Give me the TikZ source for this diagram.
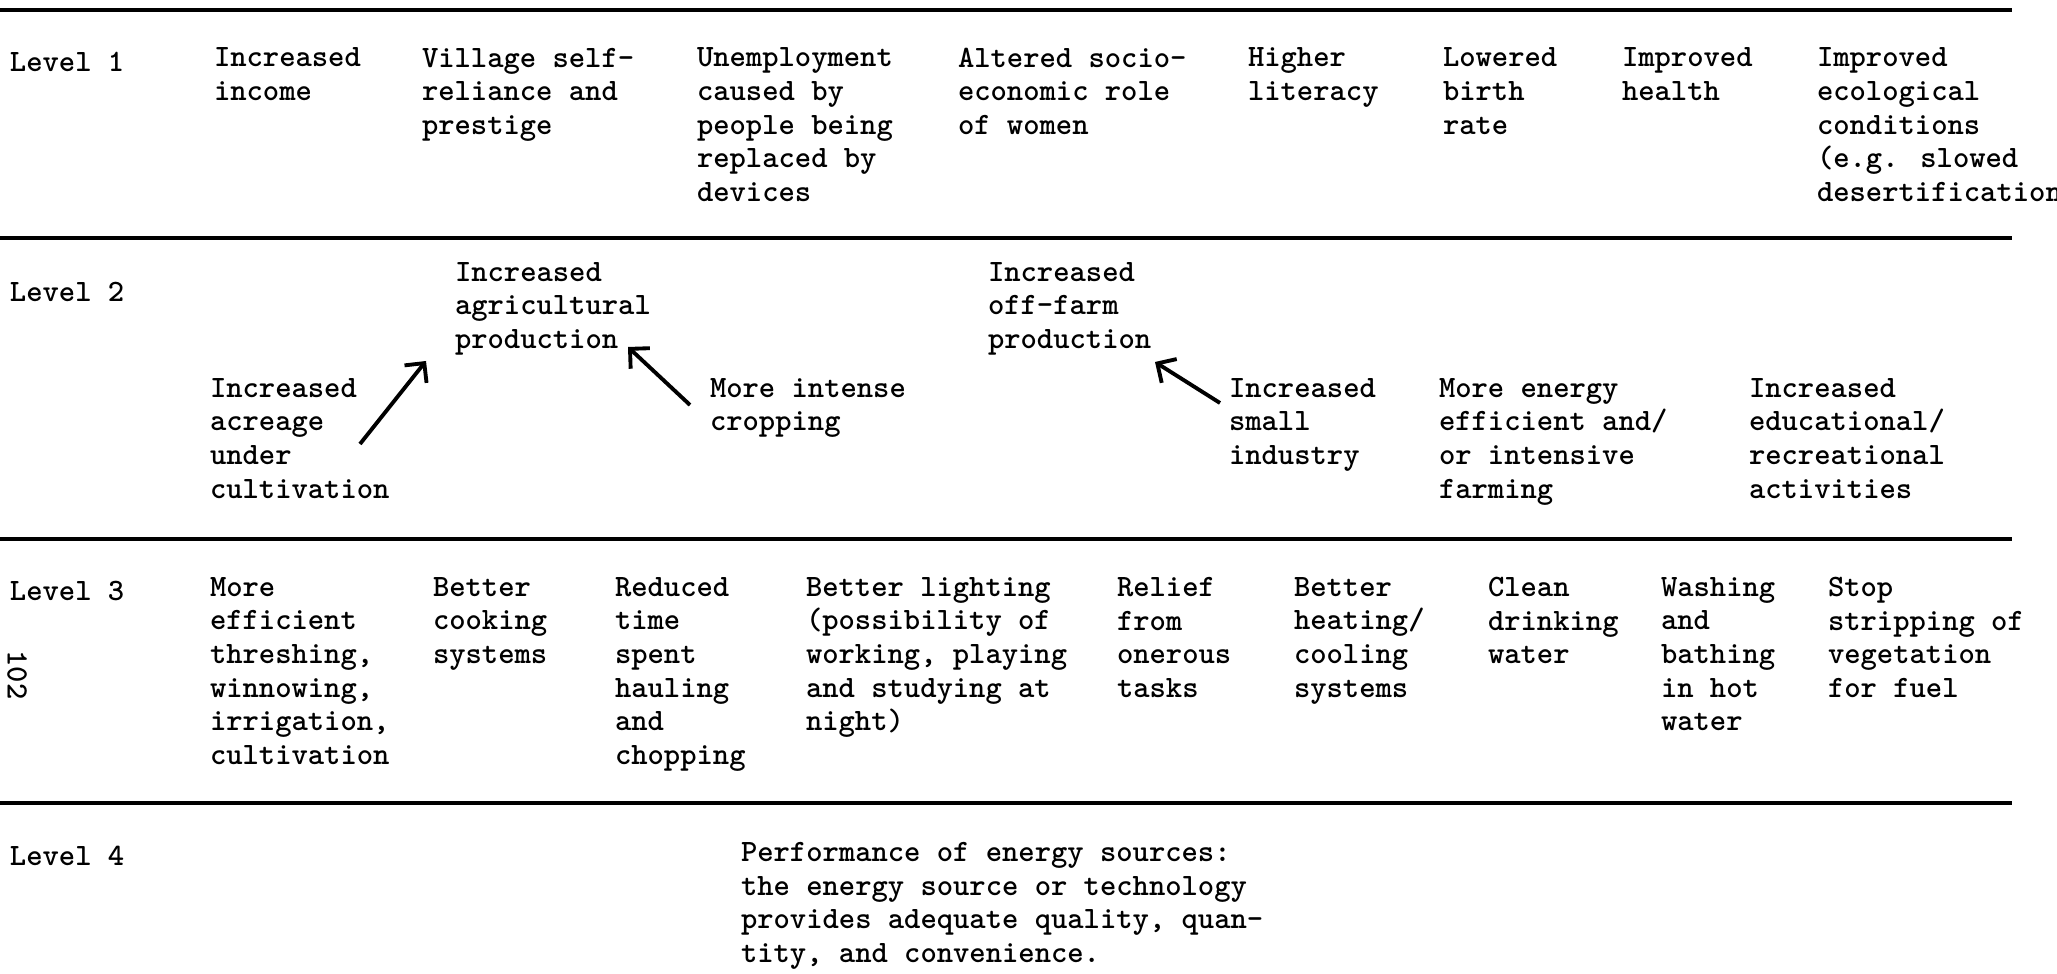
\documentclass[tikz,border=0pt]{standalone}
\usepackage{fontspec}
\setmainfont{lmmonolt10-bold.otf}
\usetikzlibrary{arrows.meta, calc}
\tikzset{
  txt/.style={anchor=north west, inner sep=0pt, outer sep=0pt, align=left, font=\fontsize{8.84pt}{9.53pt}\selectfont, execute at begin node=\strut},
  sepline/.style={line width=0.9pt, draw=black},
  arrow/.style={-{Straight Barb[length=4pt, width=8pt]}, line width=1.1pt, draw=black}
}
\begin{document}
\begin{tikzpicture}[x=0.01cm, y=-0.01cm]
\useasboundingbox (0,0) rectangle (2057,974);

\draw[sepline] (0,10) -- (2012,10);
\draw[sepline] (0,238) -- (2012,238);
\draw[sepline] (0,539) -- (2012,539);
\draw[sepline] (0,803) -- (2012,803);

\node[txt] (lvl1) at (10,48) {Level 1};
\node[txt] (income) at (214,48) {Increased\\income};
\node[txt] (village) at (422,48) {Village self-\\reliance and\\prestige};
\node[txt] (unemploy) at (697,48) {Unemployment\\caused by\\people being\\replaced by\\devices};
\node[txt] (women) at (958,48) {Altered socio-\\economic role\\of women};
\node[txt] (literacy) at (1248,48) {Higher\\literacy};
\node[txt] (birth) at (1443,48) {Lowered\\birth\\rate};
\node[txt] (health) at (1622,48) {Improved\\health};
\node[txt] (ecology) at (1817,48) {Improved\\ecological\\conditions\\(e.g. slowed\\desertification};

\node[txt] (lvl2) at (10,278.5) {Level 2};
\node[txt] (agric) at (455,262.5) {Increased\\agricultural\\production};
\node[txt] (offfarm) at (988,262.5) {Increased\\off-farm\\production};
\node[txt] (acreage) at (210,378.5) {Increased\\acreage\\under\\cultivation};
\node[txt] (intense) at (710,378.5) {More intense\\cropping};
\node[txt] (industry) at (1229,378.5) {Increased\\small\\industry};
\node[txt] (farming) at (1439,378.5) {More energy\\efficient and/\\or intensive\\farming};
\node[txt] (leisure) at (1749,378.5) {Increased\\educational/\\recreational\\activities};

\draw[arrow] ($(acreage.north west)+(150,65.5)$) -- ($(agric.north west)+(-29,98.5)$);
\draw[arrow] ($(intense.north west)+(-20,26.5)$) -- ($(agric.north west)+(173,84.5)$);
\draw[arrow] ($(industry.north west)+(-9,24.5)$) -- ($(offfarm.north west)+(167,99.5)$);

\node[txt] (lvl3) at (10,577.5) {Level 3};
\node[inner sep=0pt, rotate=-90, font=\fontsize{8.84pt}{9.53pt}\selectfont] (page) at (17,675) {102};
\node[txt] (thresh) at (210,577.5) {More\\efficient\\threshing,\\winnowing,\\irrigation,\\cultivation};
\node[txt] (cooking) at (433,577.5) {Better\\cooking\\systems};
\node[txt] (hauling) at (615,577.5) {Reduced\\time\\spent\\hauling\\and\\chopping};
\node[txt] (lighting) at (806,577.5) {Better lighting\\(possibility of\\working, playing\\and studying at\\night)};
\node[txt] (relief) at (1117,577.5) {Relief\\from\\onerous\\tasks};
\node[txt] (heating) at (1294,577.5) {Better\\heating/\\cooling\\systems};
\node[txt] (water) at (1488,577.5) {Clean\\drinking\\water};
\node[txt] (bathing) at (1661,577.5) {Washing\\and\\bathing\\in hot\\water};
\node[txt] (fuel) at (1828,577.5) {Stop\\stripping of\\vegetation\\for fuel};

\node[txt] (lvl4) at (10,842.5) {Level 4};
\node[txt] (perform) at (741,842.5) {Performance of energy sources:\\the energy source or technology\\provides adequate quality, quan-\\tity, and convenience.};

\end{tikzpicture}
\end{document}
